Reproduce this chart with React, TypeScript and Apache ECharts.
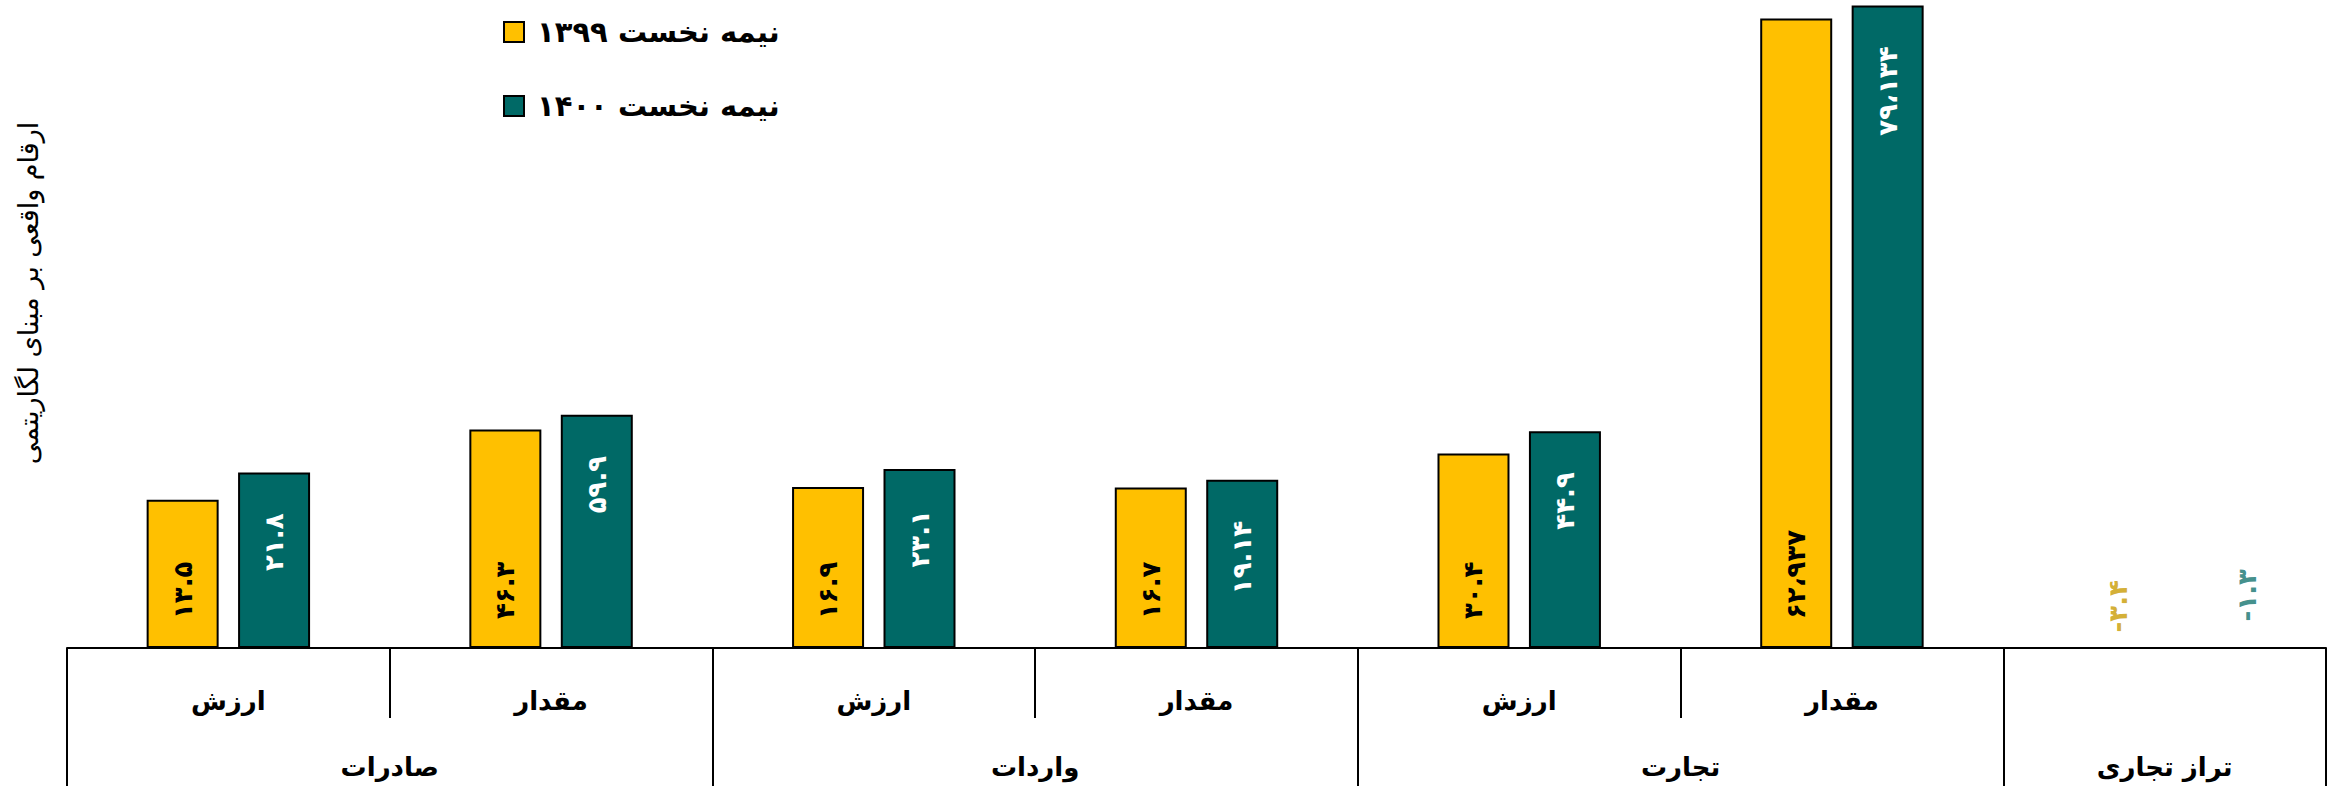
import React, { useEffect, useRef } from 'react';
import * as echarts from 'echarts';

const categories = ['ارزش', 'مقدار', 'ارزش', 'مقدار', 'ارزش', 'مقدار', ''];
const groups = ['صادرات', 'واردات', 'تجارت', 'تراز تجاری'];
const groupSpans = [2, 2, 2, 1];
const seriesNames = ['نیمه نخست ۱۳۹۹', 'نیمه نخست ۱۴۰۰'];
const values1399 = [13.5, 46.3, 16.9, 16.7, 30.4, 62937, null];
const values1400 = [21.8, 59.9, 23.1, 19.14, 44.9, 79134, null];
const balance1399 = [-3.4];
const balance1400 = [-1.3];
const yAxisTitle = 'ارقام واقعی بر مبنای لگاریتمی';

const FONT = 'DejaVu Sans';
const YELLOW = '#FFC000';
const TEAL = '#006966';

function toFa(v: number): string {
  const neg = v < 0;
  const a = Math.abs(v);
  let [i, d] = String(a).split('.');
  if (i.length > 3) i = i.replace(/\B(?=(\d{3})+(?!\d))/g, '،');
  let s = d ? i + '.' + d : i;
  s = s.replace(/\d/g, (c) => '۰۱۲۳۴۵۶۷۸۹'[+c]);
  return (neg ? '-' : '') + s;
}

const boundaries: number[] = [0];
const centers: number[] = [];
groupSpans.forEach((s) => {
  const start = boundaries[boundaries.length - 1];
  centers.push(start + s / 2);
  boundaries.push(start + s);
});

export default function App() {
  const ref = useRef<HTMLDivElement>(null);
  useEffect(() => {
    if (!ref.current) return;
    const chart = echarts.init(ref.current, null, { renderer: 'svg' });
    const lastIdx = categories.length - 1;
    chart.setOption({
      animation: false,
      backgroundColor: '#fff',
      grid: { left: 67, right: 17, top: 0, bottom: 138, containLabel: false },
      legend: {
        data: seriesNames,
        orient: 'vertical',
        left: 498,
        top: 10,
        icon: 'rect',
        itemWidth: 20,
        itemHeight: 20,
        itemGap: 40,
        itemStyle: { borderColor: '#000', borderWidth: 2 },
        textStyle: {
          fontFamily: FONT,
          fontSize: 29,
          fontWeight: 'bold',
          color: '#000',
          lineHeight: 34,
          padding: [0, 0, 0, 8],
        },
      },
      xAxis: [
        {
          type: 'category',
          data: categories,
          position: 'bottom',
          axisLine: { show: true, lineStyle: { color: '#000', width: 2 } },
          axisTick: {
            show: true,
            interval: 0,
            alignWithLabel: false,
            length: 70,
            lineStyle: { color: '#000', width: 2 },
          },
          axisLabel: {
            interval: 0,
            margin: 53,
            verticalAlign: 'middle',
            fontFamily: FONT,
            fontSize: 26,
            fontWeight: 'bold',
            color: '#000',
          },
          splitLine: { show: false },
        },
        {
          type: 'value',
          min: 0,
          max: categories.length,
          position: 'bottom',
          axisLine: { show: false },
          axisTick: {
            show: true,
            customValues: boundaries,
            length: 140,
            lineStyle: { color: '#000', width: 2 },
          },
          axisLabel: {
            show: true,
            customValues: centers,
            margin: 119,
            verticalAlign: 'middle',
            fontFamily: FONT,
            fontSize: 26,
            fontWeight: 'bold',
            color: '#000',
            formatter: (v: number) => {
              const k = centers.indexOf(v);
              return k >= 0 ? groups[k] : '';
            },
          },
          splitLine: { show: false },
        },
      ],
      yAxis: {
        type: 'log',
        logBase: 10,
        min: 1,
        max: 87000,
        axisLine: { show: false },
        axisTick: { show: false },
        axisLabel: { show: false },
        splitLine: { show: false },
        name: yAxisTitle,
        nameLocation: 'middle',
        nameRotate: 90,
        nameGap: 25,
        nameTextStyle: {
          fontFamily: FONT,
          fontSize: 27,
          color: '#000',
          padding: [0, 0, 0, 62],
        },
      },
      series: [
        {
          name: seriesNames[0],
          type: 'bar',
          xAxisIndex: 0,
          data: values1399,
          barWidth: 72,
          barGap: '27%',
          itemStyle: { color: YELLOW, borderColor: '#000', borderWidth: 2 },
          label: {
            show: true,
            position: 'insideBottom',
            distance: 24,
            rotate: 90,
            align: 'left',
            verticalAlign: 'middle',
            offset: [5, 0],
            fontFamily: FONT,
            fontSize: 26,
            fontWeight: 'bold',
            color: '#000',
            formatter: (p: any) => toFa(p.value),
          },
        },
        {
          name: seriesNames[1],
          type: 'bar',
          xAxisIndex: 0,
          data: values1400,
          barWidth: 72,
          barGap: '27%',
          itemStyle: { color: TEAL, borderColor: '#000', borderWidth: 2 },
          label: {
            show: true,
            position: 'insideTop',
            distance: 30,
            rotate: 90,
            align: 'right',
            verticalAlign: 'middle',
            offset: [-11, 0],
            fontFamily: FONT,
            fontSize: 26,
            fontWeight: 'bold',
            color: '#fff',
            formatter: (p: any) => toFa(p.value),
          },
        },
        {
          name: 'balance1399',
          type: 'scatter',
          xAxisIndex: 0,
          symbolSize: 1,
          itemStyle: { color: 'rgba(0,0,0,0)' },
          data: balance1399.map(() => [lastIdx, 1]),
          label: {
            show: true,
            position: 'top',
            distance: 15,
            rotate: 90,
            align: 'left',
            verticalAlign: 'middle',
            offset: [0, -47],
            fontFamily: FONT,
            fontSize: 26,
            fontWeight: 'bold',
            color: '#C99A00',
            formatter: (p: any) => toFa(balance1399[p.dataIndex]),
          },
        },
        {
          name: 'balance1400',
          type: 'scatter',
          xAxisIndex: 0,
          symbolSize: 1,
          itemStyle: { color: 'rgba(0,0,0,0)' },
          data: balance1400.map(() => [lastIdx, 1]),
          label: {
            show: true,
            position: 'top',
            distance: 26,
            rotate: 90,
            align: 'left',
            verticalAlign: 'middle',
            offset: [0, 82],
            fontFamily: FONT,
            fontSize: 26,
            fontWeight: 'bold',
            color: '#12736E',
            formatter: (p: any) => toFa(balance1400[p.dataIndex]),
          },
        },
      ],
    });
    return () => chart.dispose();
  }, []);
  return (
    <div
      ref={ref}
      style={{ position: 'fixed', left: 0, top: 0, width: 2343, height: 786 }}
    />
  );
}
